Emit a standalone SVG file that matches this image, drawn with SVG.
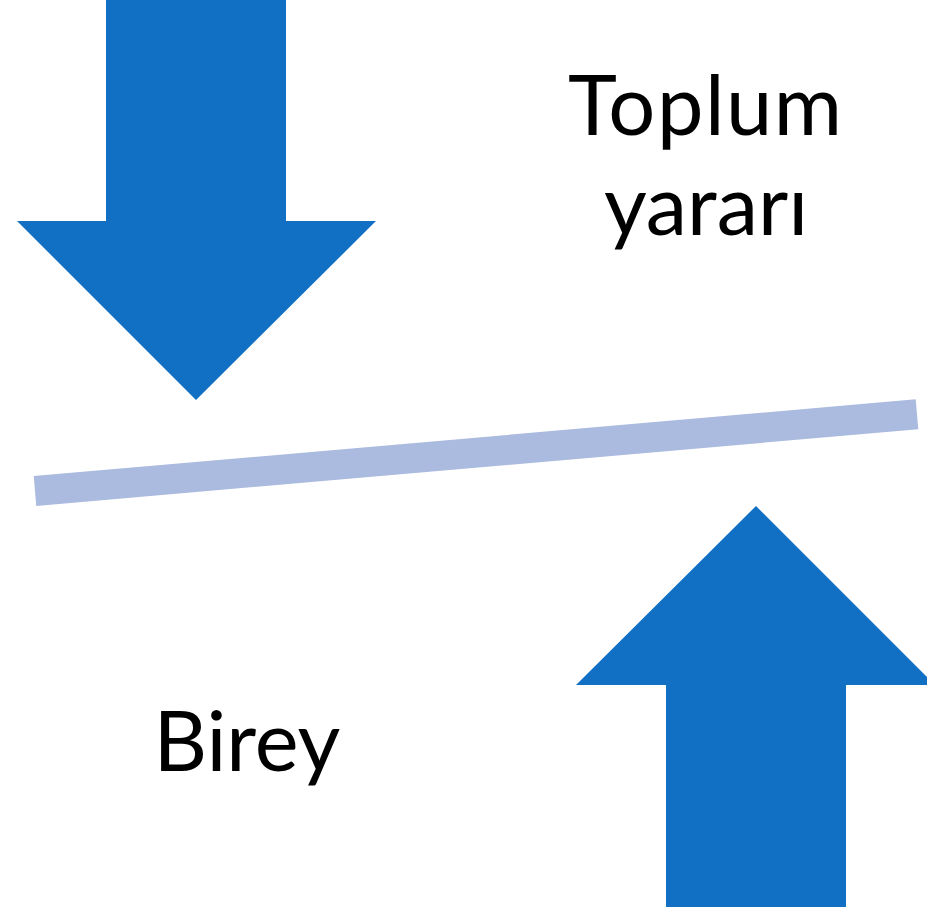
<svg xmlns="http://www.w3.org/2000/svg" width="927" height="909" viewBox="0 0 927 909">
<style>
.arrow{fill:#1170C4}
.lbl{font-family:Lato,"Open Sans","Liberation Sans",sans-serif;font-size:83px;fill:#000;text-anchor:middle}
</style>
<rect width="927" height="909" fill="#fff"/>
<g id="arrow-down"><polygon class="arrow" points="106,0 286,0 286,221 376,221 196,400 17,221 106,221"/></g>
<g id="arrow-up"><polygon class="arrow" points="756,506 935,685 846,685 846,907 666,907 666,685 576,685"/></g>
<g id="connectors"><line x1="35" y1="491" x2="917" y2="414.3" stroke="#ABBADF" stroke-width="30"/></g>
<g id="label-toplum"><text class="lbl" x="705" y="135" textLength="274" lengthAdjust="spacing">Toplum</text><text class="lbl" x="706" y="235">yararı</text></g>
<g id="label-birey"><text class="lbl" x="247" y="771">Birey</text></g>
</svg>
